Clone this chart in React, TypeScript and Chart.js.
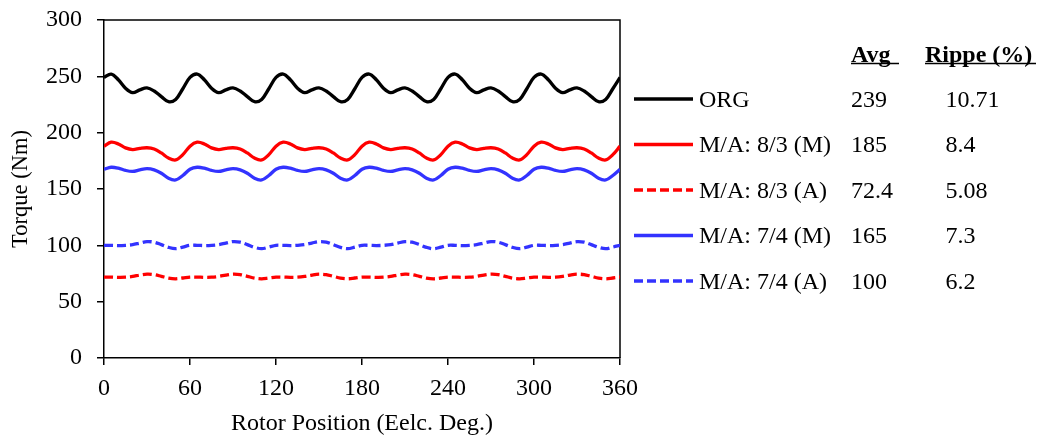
import React, { useEffect, useRef } from "react";
import { Chart, registerables } from "chart.js";

Chart.register(...registerables);

// Rotor position (electrical degrees)
const positions = [
  0, 5, 10, 15, 20, 25, 30, 35, 40, 45, 50, 55,
  60, 65, 70, 75, 80, 85, 90, 95, 100, 105, 110, 115,
  120, 125, 130, 135, 140, 145, 150, 155, 160, 165, 170, 175,
  180, 185, 190, 195, 200, 205, 210, 215, 220, 225, 230, 235,
  240, 245, 250, 255, 260, 265, 270, 275, 280, 285, 290, 295,
  300, 305, 310, 315, 320, 325, 330, 335, 340, 345, 350, 355,
  360,
];

const orgTorque = [
  249, 252, 247, 239.5, 235.5, 238, 239.7, 237, 232, 227.5, 229.5, 239,
  249, 252, 247, 239.5, 235.5, 238, 239.7, 237, 232, 227.5, 229.5, 239,
  249, 252, 247, 239.5, 235.5, 238, 239.7, 237, 232, 227.5, 229.5, 239,
  249, 252, 247, 239.5, 235.5, 238, 239.7, 237, 232, 227.5, 229.5, 239,
  249, 252, 247, 239.5, 235.5, 238, 239.7, 237, 232, 227.5, 229.5, 239,
  249, 252, 247, 239.5, 235.5, 238, 239.7, 237, 232, 227.5, 229.5, 239,
  249,
];

const ma83M = [
  188, 191.5, 190, 186.5, 185, 186, 186.6, 185.5, 182, 177.5, 175.8, 180.5,
  188, 191.5, 190, 186.5, 185, 186, 186.6, 185.5, 182, 177.5, 175.8, 180.5,
  188, 191.5, 190, 186.5, 185, 186, 186.6, 185.5, 182, 177.5, 175.8, 180.5,
  188, 191.5, 190, 186.5, 185, 186, 186.6, 185.5, 182, 177.5, 175.8, 180.5,
  188, 191.5, 190, 186.5, 185, 186, 186.6, 185.5, 182, 177.5, 175.8, 180.5,
  188, 191.5, 190, 186.5, 185, 186, 186.6, 185.5, 182, 177.5, 175.8, 180.5,
  188,
];

const ma83A = [
  71.8, 71.8, 71.6, 71.7, 72.4, 73.6, 74.4, 74, 72.5, 70.9, 70.3, 71,
  71.8, 71.8, 71.6, 71.7, 72.4, 73.6, 74.4, 74, 72.5, 70.9, 70.3, 71,
  71.8, 71.8, 71.6, 71.7, 72.4, 73.6, 74.4, 74, 72.5, 70.9, 70.3, 71,
  71.8, 71.8, 71.6, 71.7, 72.4, 73.6, 74.4, 74, 72.5, 70.9, 70.3, 71,
  71.8, 71.8, 71.6, 71.7, 72.4, 73.6, 74.4, 74, 72.5, 70.9, 70.3, 71,
  71.8, 71.8, 71.6, 71.7, 72.4, 73.6, 74.4, 74, 72.5, 70.9, 70.3, 71,
  71.8,
];

const ma74M = [
  167.5, 169.3, 168.5, 166.5, 165.6, 167, 168, 167, 164, 159.5, 158, 162,
  167.5, 169.3, 168.5, 166.5, 165.6, 167, 168, 167, 164, 159.5, 158, 162,
  167.5, 169.3, 168.5, 166.5, 165.6, 167, 168, 167, 164, 159.5, 158, 162,
  167.5, 169.3, 168.5, 166.5, 165.6, 167, 168, 167, 164, 159.5, 158, 162,
  167.5, 169.3, 168.5, 166.5, 165.6, 167, 168, 167, 164, 159.5, 158, 162,
  167.5, 169.3, 168.5, 166.5, 165.6, 167, 168, 167, 164, 159.5, 158, 162,
  167.5,
];

const ma74A = [
  100, 100, 99.8, 100, 100.6, 102, 103.3, 102.8, 100.6, 98.2, 97, 98.4,
  100, 100, 99.8, 100, 100.6, 102, 103.3, 102.8, 100.6, 98.2, 97, 98.4,
  100, 100, 99.8, 100, 100.6, 102, 103.3, 102.8, 100.6, 98.2, 97, 98.4,
  100, 100, 99.8, 100, 100.6, 102, 103.3, 102.8, 100.6, 98.2, 97, 98.4,
  100, 100, 99.8, 100, 100.6, 102, 103.3, 102.8, 100.6, 98.2, 97, 98.4,
  100, 100, 99.8, 100, 100.6, 102, 103.3, 102.8, 100.6, 98.2, 97, 98.4,
  100,
];

const seriesNames = ["ORG", "M/A: 8/3 (M)", "M/A: 8/3 (A)", "M/A: 7/4 (M)", "M/A: 7/4 (A)"];
const seriesValues = [orgTorque, ma83M, ma83A, ma74M, ma74A];
const seriesColors = ["#000000", "#FF0000", "#FF0000", "#3333FF", "#3333FF"];
const seriesDashed = [false, false, true, false, true];
const avgValues = ["239", "185", "72.4", "165", "100"];
const rippleValues = ["10.71", "8.4", "5.08", "7.3", "6.2"];
const tableHeaders = ["Avg", "Rippe (%)"];

const xTickValues = [0, 60, 120, 180, 240, 300, 360];
const yTickValues = [0, 50, 100, 150, 200, 250, 300];

const FONT = "'Liberation Serif', 'Times New Roman', serif";

const framePlugin = {
  id: "frameAndTable",
  beforeDatasetsDraw(chart: any) {
    const { ctx, chartArea } = chart;
    const { left, top, right, bottom } = chartArea;
    ctx.save();
    ctx.strokeStyle = "#000";
    ctx.lineWidth = 1.5;
    ctx.beginPath();
    ctx.moveTo(left - 0.75, top);
    ctx.lineTo(right, top);
    ctx.lineTo(right, bottom);
    ctx.stroke();
    ctx.restore();
  },
  afterDraw(chart: any) {
    const { ctx } = chart;
    ctx.save();
    ctx.fillStyle = "#000";
    ctx.textBaseline = "alphabetic";
    ctx.textAlign = "left";
    // headers
    ctx.font = `bold 24px ${FONT}`;
    const headerX = [851, 925];
    const headerUnderlineEnd = [899, 1036];
    tableHeaders.forEach((h, i) => {
      ctx.fillText(h, headerX[i], 61.5);
      ctx.beginPath();
      ctx.strokeStyle = "#000";
      ctx.lineWidth = 1.6;
      ctx.moveTo(headerX[i], 63.5);
      ctx.lineTo(headerUnderlineEnd[i], 63.5);
      ctx.stroke();
    });
    // rows
    ctx.font = `24px ${FONT}`;
    seriesNames.forEach((name, i) => {
      const y = 99 + i * 45.5;
      ctx.beginPath();
      ctx.strokeStyle = seriesColors[i];
      ctx.lineWidth = 3.3;
      ctx.setLineDash(seriesDashed[i] ? [9, 4] : []);
      ctx.moveTo(634, y);
      ctx.lineTo(693, y);
      ctx.stroke();
      ctx.setLineDash([]);
      ctx.fillStyle = "#000";
      ctx.fillText(name, 699, y + 7.8);
      ctx.fillText(avgValues[i], 851, y + 7.8);
      ctx.fillText(rippleValues[i], 945.5, y + 7.8);
    });
    ctx.restore();
  },
};

export default function App() {
  const canvasRef = useRef<HTMLCanvasElement | null>(null);

  useEffect(() => {
    const canvas = canvasRef.current;
    if (!canvas) return;
    const datasets = seriesNames.map((name, i) => ({
      label: name,
      data: positions.map((x, j) => ({ x, y: seriesValues[i][j] })),
      borderColor: seriesColors[i],
      backgroundColor: seriesColors[i],
      borderWidth: 3.3,
      borderDash: seriesDashed[i] ? [9, 4] : [],
      pointRadius: 0,
      fill: false,
      tension: 0.35,
    }));

    const chart = new Chart(canvas, {
      type: "line",
      data: { datasets },
      plugins: [framePlugin],
      options: {
        animation: false,
        responsive: false,
        maintainAspectRatio: false,
        layout: { padding: { top: 20, right: 420, left: 0, bottom: 0 } },
        plugins: {
          legend: { display: false },
          tooltip: { enabled: false },
        },
        scales: {
          x: {
            type: "linear",
            min: 0,
            max: 360,
            afterBuildTicks: (scale: any) => {
              scale.ticks = xTickValues.map((v) => ({ value: v }));
            },
            afterFit: (scale: any) => {
              scale.height = 80;
            },
            ticks: {
              color: "#000",
              font: { family: FONT, size: 24 },
              padding: 9,
              maxRotation: 0,
              autoSkip: false,
            },
            grid: {
              display: true,
              drawOnChartArea: false,
              drawTicks: true,
              tickLength: 7,
              color: "#000",
              lineWidth: 1.5,
            },
            border: { display: true, color: "#000", width: 1.5 },
            title: {
              display: true,
              text: "Rotor Position (Eelc. Deg.)",
              color: "#000",
              font: { family: FONT, size: 24, lineHeight: 1 },
              padding: { top: 0, bottom: 2 },
            },
          },
          y: {
            type: "linear",
            min: 0,
            max: 300,
            afterBuildTicks: (scale: any) => {
              scale.ticks = yTickValues.map((v) => ({ value: v }));
            },
            afterFit: (scale: any) => {
              scale.width = 104;
              scale.paddingTop = 0;
              scale.paddingBottom = 0;
            },
            ticks: {
              color: "#000",
              font: { family: FONT, size: 24, lineHeight: 0.5 },
              padding: 15,
              autoSkip: false,
            },
            grid: {
              display: true,
              drawOnChartArea: false,
              drawTicks: true,
              tickLength: 7,
              color: "#000",
              lineWidth: 1.5,
            },
            border: { display: true, color: "#000", width: 1.5 },
            title: {
              display: true,
              text: "Torque (Nm)",
              color: "#000",
              font: { family: FONT, size: 22.5, lineHeight: 1 },
              padding: { top: 10, bottom: 0 },
            },
          },
        },
      },
    });
    return () => chart.destroy();
  }, []);

  return (
    <div style={{ position: "fixed", left: 0, top: 0, width: 1040, height: 438, background: "#fff" }}>
      <canvas ref={canvasRef} width={1040} height={438} style={{ display: "block" }} />
    </div>
  );
}
